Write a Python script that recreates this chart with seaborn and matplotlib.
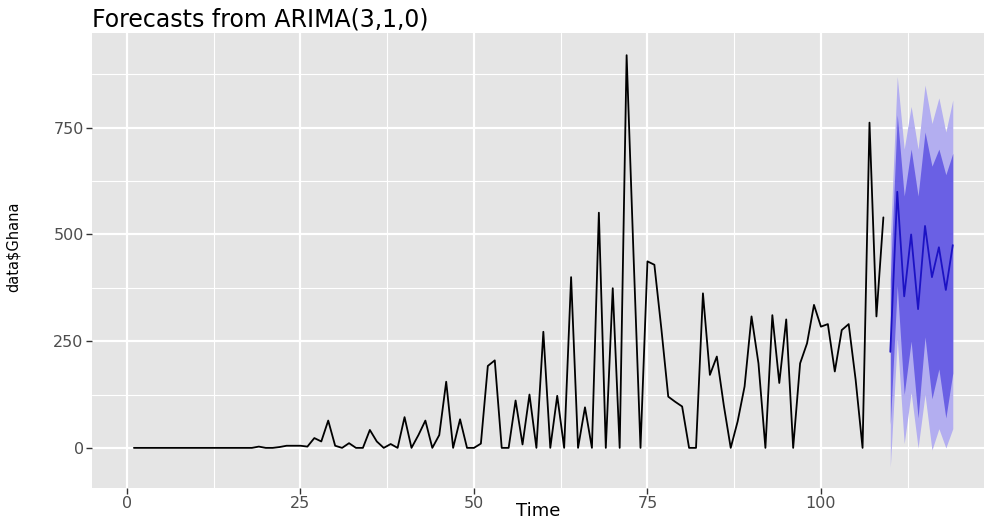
import numpy as np
import pandas as pd
import matplotlib
matplotlib.use("Agg")
import matplotlib.pyplot as plt
import seaborn as sns
from matplotlib.ticker import FixedLocator

# ---- data ----
hist_values = [0, 0, 0, 0, 0, 0, 0, 0, 0, 0, 0, 0, 0, 0, 0, 0, 0, 0,   # t 1-18
               3, 0, 0, 2, 5, 5, 5, 3, 23, 15, 64, 5,                   # t 19-30
               0, 11, 0, 0, 42, 15, 0, 9, 0, 72,                        # t 31-40
               0, 30, 64, 0, 30, 155, 0, 67, 0, 0,                      # t 41-50
               10, 192, 205, 0, 0, 111, 8, 125, 0, 272,                 # t 51-60
               0, 122, 0, 400, 0, 95, 0, 551, 0, 374,                   # t 61-70
               0, 920, 450, 0, 437, 429, 280, 120, 108, 97,             # t 71-80
               0, 0, 362, 171, 214, 100, 0, 62, 144, 308,               # t 81-90
               198, 0, 311, 152, 301, 0, 198, 245, 335, 284,            # t 91-100
               290, 179, 276, 290, 160, 0, 762, 308, 540]               # t 101-109
hist_time = list(range(1, len(hist_values) + 1))

fc_time = list(range(110, 120))
fc_mean = [225, 600, 355, 500, 325, 520, 400, 470, 370, 475]
fc_lo80 = [55, 380, 125, 250, 70, 260, 115, 185, 70, 175]
fc_hi80 = [395, 780, 590, 700, 590, 740, 660, 700, 640, 690]
fc_lo95 = [-45, 255, 10, 130, 0, 125, -5, 45, 0, 45]
fc_hi95 = [490, 870, 700, 800, 700, 850, 760, 820, 740, 815]

x_major = [0, 25, 50, 75, 100]
y_major = [0, 250, 500, 750]

hist_df = pd.DataFrame({"Time": hist_time, "value": hist_values})
fc_df = pd.DataFrame({"Time": fc_time, "mean": fc_mean,
                      "lo80": fc_lo80, "hi80": fc_hi80,
                      "lo95": fc_lo95, "hi95": fc_hi95})

# ---- style ----
sns.set_theme(style="darkgrid")
plt.rcParams["font.family"] = ["DejaVu Sans"]

fig = plt.figure(figsize=(9.84, 5.24), dpi=100)
ax = fig.add_axes([92 / 984, 36 / 524, 1 - 92 / 984, (488 - 33) / 524])
ax.set_facecolor("#E5E5E5")

# prediction intervals
ax.fill_between(fc_df["Time"], fc_df["lo95"], fc_df["hi95"],
                color="#B3AEF0", lw=0, zorder=2)
ax.fill_between(fc_df["Time"], fc_df["lo80"], fc_df["hi80"],
                color="#6A60E4", lw=0, zorder=3)

sns.lineplot(data=hist_df, x="Time", y="value", ax=ax, color="black",
             lw=1.3, zorder=4)
sns.lineplot(data=fc_df, x="Time", y="mean", ax=ax, color="#1C12C4",
             lw=1.3, zorder=5)

ax.set_xlim(-5.04, 123.5)
ax.set_ylim(-94, 972)

ax.xaxis.set_major_locator(FixedLocator(x_major))
ax.yaxis.set_major_locator(FixedLocator(y_major))
ax.xaxis.set_minor_locator(FixedLocator([12.5, 37.5, 62.5, 87.5, 112.5]))
ax.yaxis.set_minor_locator(FixedLocator([125, 375, 625, 875]))
ax.grid(which="major", color="white", lw=1.6)
ax.grid(which="minor", color="white", lw=0.8)
ax.set_axisbelow(True)
for s in ax.spines.values():
    s.set_visible(False)

ax.tick_params(axis="both", which="major", length=4, width=1, color="#333333",
               labelsize=11.5, labelcolor="#4D4D4D", pad=2, direction="out")
ax.tick_params(axis="both", which="minor", length=0)
ax.tick_params(bottom=True, left=True)

ax.set_xlabel("Time", fontsize=13, color="black")
ax.xaxis.set_label_coords(0.5, -0.03)
ax.set_ylabel(r"data\$Ghana", fontsize=10.5, color="black")
ax.yaxis.set_label_coords(-0.08, 0.53)
ax.set_title("Forecasts from ARIMA(3,1,0)", loc="left", fontsize=17,
             color="black", pad=5)

fig.savefig("out.png", dpi=100)
